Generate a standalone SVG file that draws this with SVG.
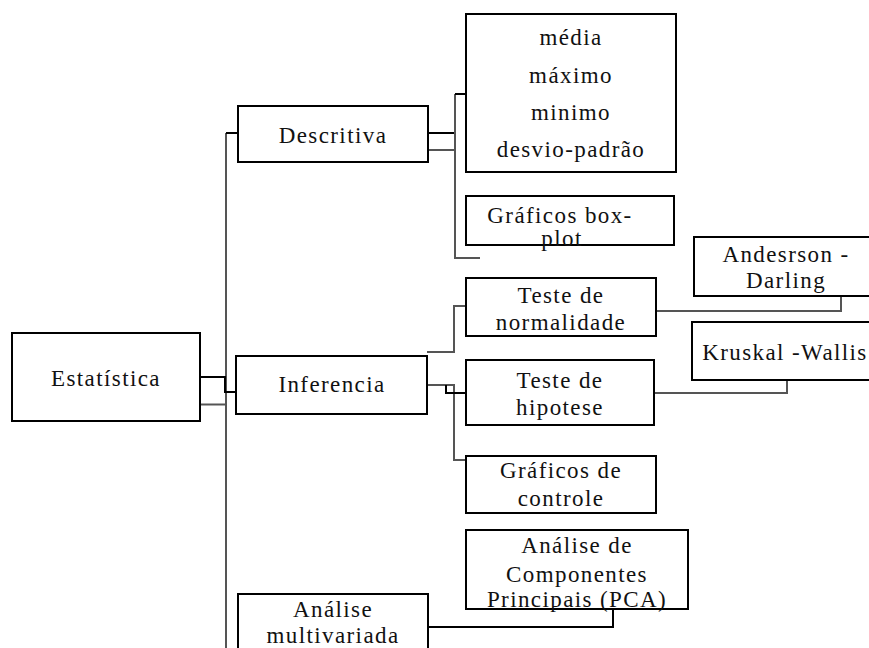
<svg xmlns="http://www.w3.org/2000/svg" width="869" height="648" viewBox="0 0 869 648">
<style>
rect.box{fill:#fff;stroke:#000;stroke-width:2}
text{font-size:23px;letter-spacing:1.4px;fill:#111;text-anchor:middle}
.c{fill:none;stroke:#000;stroke-width:2}
.g{fill:none;stroke:#555;stroke-width:2}
</style>
<rect width="869" height="648" fill="#fff"/>
<g id="connectors">
<path class="g" d="M226,133 V648"/>
<path class="c" d="M226,133 H238"/>
<path class="c" d="M200,377 H225 V392 H236"/>
<path class="g" d="M200,404.5 H226"/>
<path class="c" d="M428,133 H455"/>
<path class="g" d="M428,150 H455"/>
<path class="g" d="M455,94 V258 H480"/>
<path class="c" d="M455,94 H466"/>
<path class="g" d="M427,352 H454 V306 H466"/>
<path class="g" d="M426,385 H454 V460 H466"/>
<path class="c" d="M446,385 V393 H466"/>
<path class="g" d="M656,311 H841 V296"/>
<path class="g" d="M654,393 H787 V380"/>
<path class="c" d="M428,627 H613 V609"/>
</g>
<g font-family="Liberation Serif, Tinos, Times New Roman, DejaVu Serif, serif">
<g id="estatistica"><rect class="box" x="12" y="333" width="188" height="88"/><text x="106" y="386">Estatística</text></g>
<g id="descritiva"><rect class="box" x="238" y="106" width="190" height="56"/><text x="333" y="143">Descritiva</text></g>
<g id="inferencia"><rect class="box" x="236" y="356" width="191" height="58"/><text x="332" y="392">Inferencia</text></g>
<g id="multivariada"><rect class="box" x="238" y="594" width="190" height="70"/><text x="333" y="617">Análise</text><text x="333" y="643">multivariada</text></g>
<g id="medidas"><rect class="box" x="466" y="14" width="210" height="158"/><text x="571" y="45">média</text><text x="571" y="83">máximo</text><text x="571" y="120">minimo</text><text x="571" y="157">desvio-padrão</text></g>
<g id="boxplot"><rect class="box" x="466" y="196" width="208" height="49"/><text x="560" y="223">Gráficos box-</text><text x="562" y="246">plot</text></g>
<g id="normalidade"><rect class="box" x="466" y="278" width="190" height="58"/><text x="561" y="303">Teste de</text><text x="561" y="330">normalidade</text></g>
<g id="hipotese"><rect class="box" x="466" y="360" width="188" height="65"/><text x="560" y="388">Teste de</text><text x="560" y="415">hipotese</text></g>
<g id="controle"><rect class="box" x="466" y="456" width="190" height="57"/><text x="561" y="478">Gráficos de</text><text x="561" y="506">controle</text></g>
<g id="pca"><rect class="box" x="466" y="530" width="222" height="79"/><text x="577" y="553">Análise de</text><text x="577" y="582">Componentes</text><text x="577" y="607">Principais (PCA)</text></g>
<g id="anderson"><rect class="box" x="694" y="237" width="186" height="59"/><text x="786" y="262">Andesrson -</text><text x="786" y="288">Darling</text></g>
<g id="kruskal"><rect class="box" x="692" y="322" width="188" height="58"/><text x="785" y="360">Kruskal -Wallis</text></g>
</g>
</svg>
